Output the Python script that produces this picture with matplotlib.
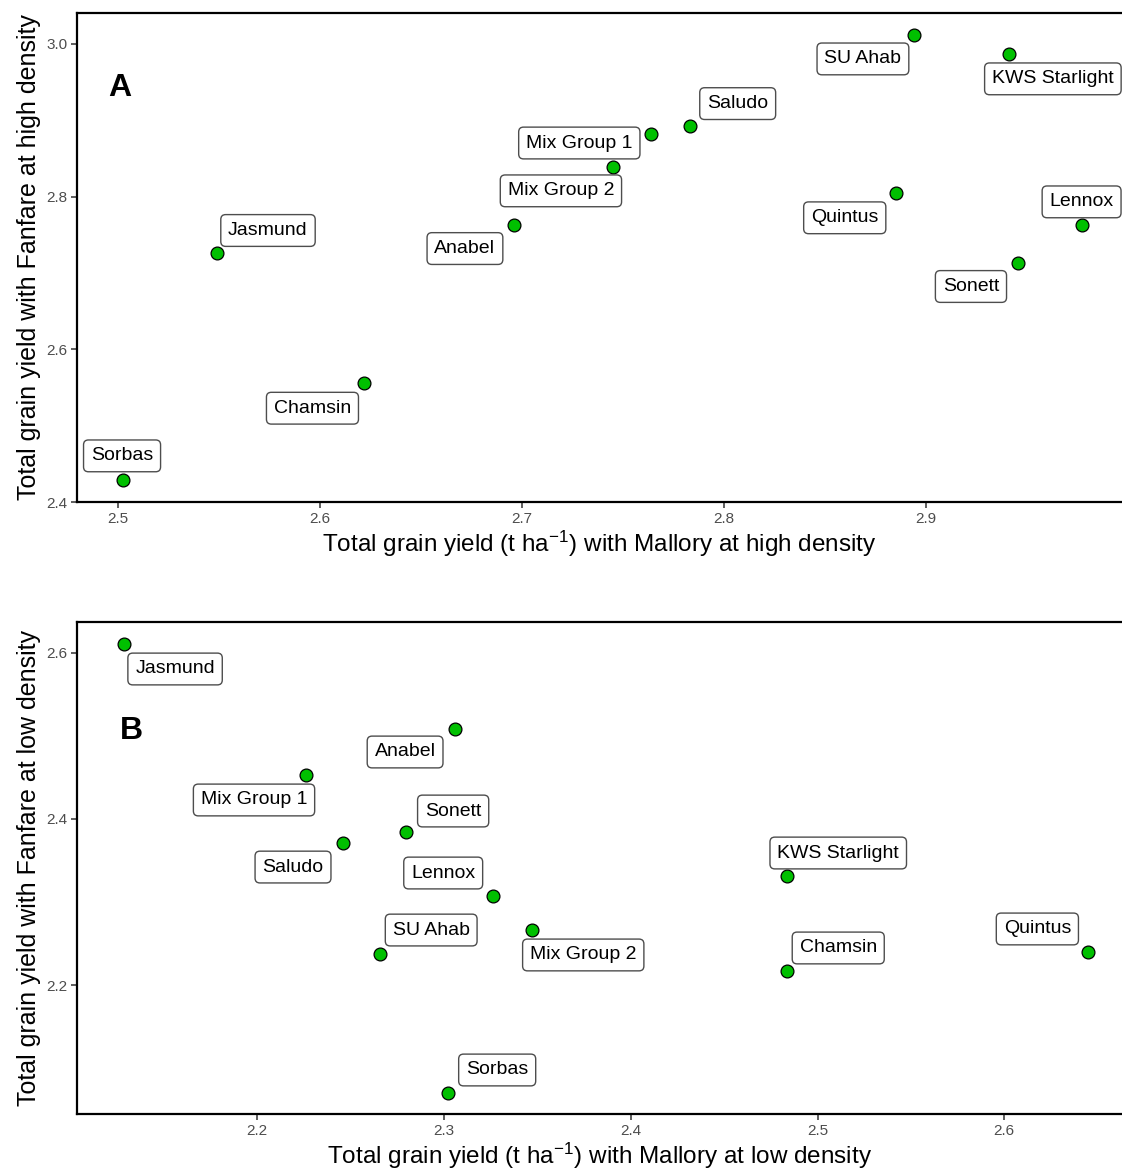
import matplotlib
matplotlib.use("Agg")
import matplotlib.pyplot as plt

plt.rcParams['font.family'] = ['Liberation Sans', 'DejaVu Sans']
plt.rcParams['mathtext.fontset'] = 'custom'
plt.rcParams['mathtext.rm'] = 'Liberation Sans'
plt.rcParams['mathtext.it'] = 'Liberation Sans:italic'
plt.rcParams['mathtext.bf'] = 'Liberation Sans:bold'
plt.rcParams['mathtext.default'] = 'regular'

# Panel A: high density
names_a = ["Sorbas", "Jasmund", "Chamsin", "Anabel", "Mix Group 2", "Mix Group 1",
           "Saludo", "SU Ahab", "KWS Starlight", "Quintus", "Lennox", "Sonett"]
mallory_a = [2.5025, 2.549, 2.622, 2.696, 2.745, 2.764, 2.783, 2.894, 2.941, 2.885, 2.977, 2.9455]
fanfare_a = [2.429, 2.7255, 2.5556, 2.7634, 2.839, 2.882, 2.893, 3.0118, 2.987, 2.805, 2.763, 2.7124]

# Panel B: low density
names_b = ["Jasmund", "Anabel", "Mix Group 1", "Saludo", "Sonett", "Lennox",
           "SU Ahab", "Mix Group 2", "Sorbas", "KWS Starlight", "Chamsin", "Quintus"]
mallory_b = [2.1288, 2.306, 2.2262, 2.246, 2.2798, 2.3264, 2.2659, 2.3473, 2.3023, 2.4838, 2.4838, 2.645]
fanfare_b = [2.6108, 2.5084, 2.453, 2.371, 2.3843, 2.3072, 2.2373, 2.2663, 2.0699, 2.3313, 2.2169, 2.2398]

# label offsets (pixels, dx right, dy down)
off_a = [(-1, -24), (51, -23), (-52, 25), (-49, 24), (-52, 24), (-72, 9),
         (48, -22), (-51, 24), (44, 25), (-51, 25), (0, -23), (-47, 23)]
off_b = [(51, 25), (-50, 23), (-52, 25), (-50, 24), (47, -21), (-50, -23),
         (51, -24), (51, 25), (49, -23), (51, -23), (51, -23), (-51, -23)]

fig = plt.figure(figsize=(11.22, 11.73), dpi=100)
W, H = 1122, 1173

def make_axes(top, bottom, left=77, right=1122):
    return fig.add_axes([left / W, 1 - bottom / H, (right - left) / W, (bottom - top) / H])

axA = make_axes(13, 502)
axB = make_axes(622, 1114)

def style(ax, xl, yl, xlim, ylim, xticks, yticks):
    ax.set_xlim(*xlim)
    ax.set_ylim(*ylim)
    ax.set_xticks(xticks)
    ax.set_yticks(yticks)
    ax.set_xticklabels([f"{t:.1f}" for t in xticks])
    ax.set_yticklabels([f"{t:.1f}" for t in yticks])
    ax.spines['right'].set_visible(False)
    for s in ['left', 'bottom', 'top']:
        ax.spines[s].set_linewidth(1.6)
        ax.spines[s].set_color('black')
    ax.tick_params(axis='both', length=4, width=1.1, color='#333333',
                   labelsize=11, labelcolor='#4d4d4d', pad=3)
    ax.set_xlabel(xl, fontsize=17.5, color='black', labelpad=2)
    ax.set_ylabel(yl, fontsize=18, color='black', labelpad=4)

def draw(ax, xs, ys, names, offs, letter, letter_pos):
    ax.scatter(xs, ys, s=85, c='#00c000', edgecolors='black', linewidths=0.9, zorder=3)
    for x, y, n, (dx, dy) in zip(xs, ys, names, offs):
        ax.annotate(n, (x, y), xytext=(dx, -dy), textcoords='offset pixels',
                    ha='center', va='center', fontsize=14, color='black',
                    bbox=dict(boxstyle='round,pad=0.38,rounding_size=0.25',
                              fc='white', ec='#4d4d4d', lw=1.0), zorder=4)
    ax.text(letter_pos[0], letter_pos[1], letter, transform=ax.transAxes,
            fontsize=23, fontweight='bold', ha='left', va='center')

style(axA, "Total grain yield (t ha$^{-1}$) with Mallory at high density",
      "Total grain yield with Fanfare at high density",
      (2.4797, 2.997), (2.4, 3.0405), [2.5, 2.6, 2.7, 2.8, 2.9], [2.4, 2.6, 2.8, 3.0])
draw(axA, mallory_a, fanfare_a, names_a, off_a, "A", ((108 - 77) / 1045, 1 - (88 - 13) / 489))

style(axB, "Total grain yield (t ha$^{-1}$) with Mallory at low density",
      "Total grain yield with Fanfare at low density",
      (2.1036, 2.663), (2.0446, 2.6373), [2.2, 2.3, 2.4, 2.5, 2.6], [2.2, 2.4, 2.6])
draw(axB, mallory_b, fanfare_b, names_b, off_b, "B", ((120 - 77) / 1045, 1 - (731 - 622) / 492))

fig.savefig("out.png", dpi=100)
